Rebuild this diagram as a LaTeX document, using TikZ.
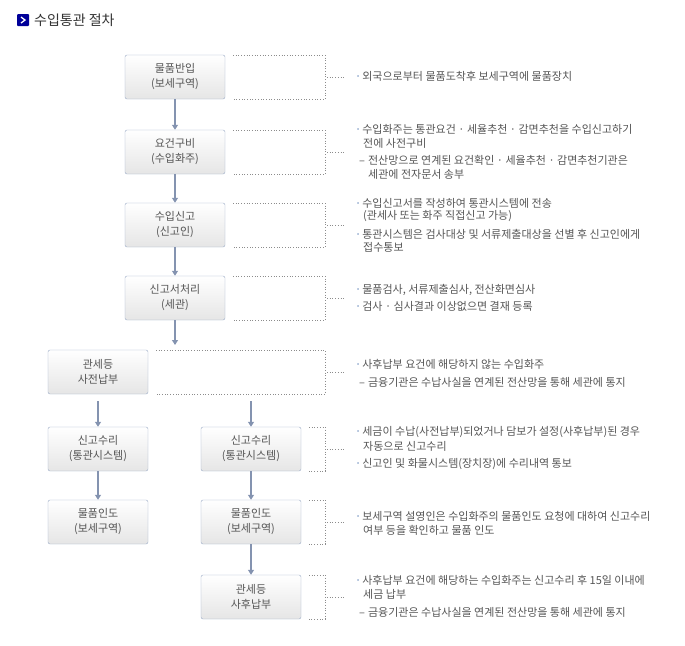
\documentclass[tikz,border=0pt]{standalone}
\usepackage{fontspec}
\setmainfont{Noto Sans CJK KR}
\usetikzlibrary{positioning,arrows.meta}
\definecolor{boxline}{HTML}{9AAAC6}
\definecolor{arr}{HTML}{8493B0}
\definecolor{txt}{HTML}{555555}
\definecolor{dot}{HTML}{8C8C8C}
\definecolor{bul}{HTML}{5A7FB5}
\tikzset{
  stepbox/.style={draw=boxline,rounded corners=2pt,top color=white,bottom color=black!10,
    minimum width=100pt,minimum height=44pt,align=center,font=\fontsize{11}{15}\selectfont,text=txt},
  flow/.style={draw=arr,line width=1.2pt,-{Triangle[width=6pt,length=5pt]}},
  brk/.style={draw=dot,dotted,line width=0.7pt},
  note/.style={anchor=west,inner sep=0pt,font=\fontsize{11}{13}\selectfont,text=txt}
}
\newcommand{\itm}[2]{\node[note] at (355,#1) {\textcolor{bul}{·}\hspace{1pt}#2};}
\newcommand{\sub}[2]{\node[note] at (359,#1) {–\hspace{3pt}#2};}
\newcommand{\cnt}[2]{\node[note] at (363,#1) {#2};}
\newcommand{\bracket}[3]{% x start, y top, y bottom
  \draw[brk] (#1,#2) -- (325,#2) -- (325,#3) -- (#1,#3);
  \draw[brk] (327,{(#2+#3)/2}) -- (345,{(#2+#3)/2});}
\begin{document}
\begin{tikzpicture}[x=1pt,y=-1pt]
\useasboundingbox (0,0) rectangle (685,645);
% title
\fill[blue!60!black,rounded corners=1pt] (17,14) rectangle (29,26);
\draw[white,line width=1.3pt] (21,17) -- (25,20) -- (21,23);
\node[anchor=west,inner sep=0pt,font=\fontsize{14}{16}\selectfont,text=black!80] (title) at (34,20) {수입통관 절차};
% boxes
\node[stepbox] (b1) at (175,77) {물품반입\\(보세구역)};
\node[stepbox] (b2) at (175,152) {요건구비\\(수입화주)};
\node[stepbox] (b3) at (175,225) {수입신고\\(신고인)};
\node[stepbox] (b4) at (175,298) {신고서처리\\(세관)};
\node[stepbox] (b5) at (98,372) {관세등\\사전납부};
\node[stepbox] (l6) at (98,449) {신고수리\\(통관시스템)};
\node[stepbox] (l7) at (98,522) {물품인도\\(보세구역)};
\node[stepbox] (r6) at (251,449) {신고수리\\(통관시스템)};
\node[stepbox] (r7) at (251,522) {물품인도\\(보세구역)};
\node[stepbox] (r8) at (251,597) {관세등\\사후납부};
% arrows
\draw[flow] (b1) -- (b2);
\draw[flow] (b2) -- (b3);
\draw[flow] (b3) -- (b4);
\coordinate (c4) at (175,345);
\draw[flow] (b4) -- (c4);
\coordinate (cl) at (98,401);
\coordinate (cr) at (251,401);
\draw[flow] (cl) -- (l6);
\draw[flow] (cr) -- (r6);
\draw[flow] (l6) -- (l7);
\draw[flow] (r6) -- (r7);
\draw[flow] (r7) -- (r8);
% brackets
\bracket{233}{55}{99}
\bracket{233}{130}{174}
\bracket{233}{203}{247}
\bracket{233}{276}{320}
\bracket{156}{350}{394}
\bracket{309}{427}{471}
\bracket{309}{500}{544}
\bracket{309}{575}{619}
% notes
\itm{76}{외국으로부터 물품도착후 보세구역에 물품장치}
\itm{129}{수입화주는 통관요건 · 세율추천 · 감면추천을 수입신고하기}
\cnt{143}{전에 사전구비}
\sub{160}{전산망으로 연계된 요건확인 · 세율추천 · 감면추천기관은}
\cnt{174}{\hspace{5pt}세관에 전자문서 송부}
\itm{203}{수입신고서를 작성하여 통관시스템에 전송}
\cnt{216}{(관세사 또는 화주 직접신고 가능)}
\itm{234}{통관시스템은 검사대상 및 서류제출대상을 선별 후 신고인에게}
\cnt{247}{접수통보}
\itm{290}{물품검사, 서류제출심사, 전산화면심사}
\itm{306}{검사 · 심사결과 이상없으면 결재 등록}
\itm{364}{사후납부 요건에 해당하지 않는 수입화주}
\sub{382}{금융기관은 수납사실을 연계된 전산망을 통해 세관에 통지}
\itm{432}{세금이 수납(사전납부)되었거나 담보가 설정(사후납부)된 경우}
\cnt{446}{자동으로 신고수리}
\itm{464}{신고인 및 화물시스템(장치장)에 수리내역 통보}
\itm{516}{보세구역 설영인은 수입화주의 물품인도 요청에 대하여 신고수리}
\cnt{530}{여부 등을 확인하고 물품 인도}
\itm{580}{사후납부 요건에 해당하는 수입화주는 신고수리 후 15일 이내에}
\cnt{594}{세금 납부}
\sub{612}{금융기관은 수납사실을 연계된 전산망을 통해 세관에 통지}
\end{tikzpicture}
\end{document}
